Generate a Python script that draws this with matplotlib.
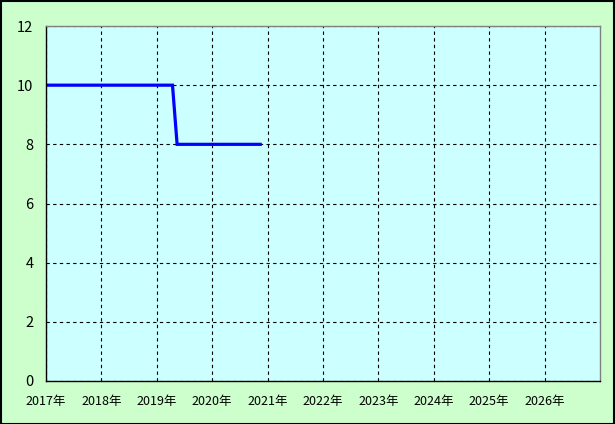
import matplotlib
matplotlib.use('Agg')
import matplotlib.pyplot as plt
import numpy as np

plt.rcParams['font.family'] = ['Noto Sans CJK JP', 'DejaVu Sans']

# monthly series, Jan 2017 .. Nov 2020
months = [2017 + (k + 0.4) / 12 for k in range(47)]
values = [10] * 28 + [8] * 19
years = list(range(2017, 2027))
year_labels = [str(y) + "年" for y in years]
y_ticks = [0, 2, 4, 6, 8, 10, 12]

fig = plt.figure(figsize=(6.15, 4.24), dpi=100, facecolor="#CCFFCC")
ax = fig.add_axes([46 / 615, 1 - 381 / 424, 554 / 615, 355 / 424])
ax.set_facecolor("#CCFFFF")

ax.plot(months, values, color="#0000FF", lw=2.3, solid_joinstyle="miter")

ax.set_xlim(2017, 2027)
ax.set_ylim(0, 12)
ax.set_xticks(years)
ax.set_xticklabels(year_labels)
ax.set_yticks(y_ticks)
ax.tick_params(length=0, colors="black")
ax.tick_params(axis="x", pad=10, labelsize=9)
ax.tick_params(axis="y", pad=9, labelsize=10.5)
ax.grid(True, color="black", linestyle=(0, (3, 3)), linewidth=0.8)

ax.spines['left'].set_color("black")
ax.spines['bottom'].set_color("black")
ax.spines['top'].set_color("#808080")
ax.spines['right'].set_color("#808080")
for s in ax.spines.values():
    s.set_linewidth(1)

# outer frame
fig.patches.append(plt.Rectangle((0.001, 0.001), 0.997, 0.997, transform=fig.transFigure,
                                 fill=False, edgecolor="black", lw=1.5))

plt.savefig("out.png", dpi=100, facecolor=fig.get_facecolor())
plt.close()
